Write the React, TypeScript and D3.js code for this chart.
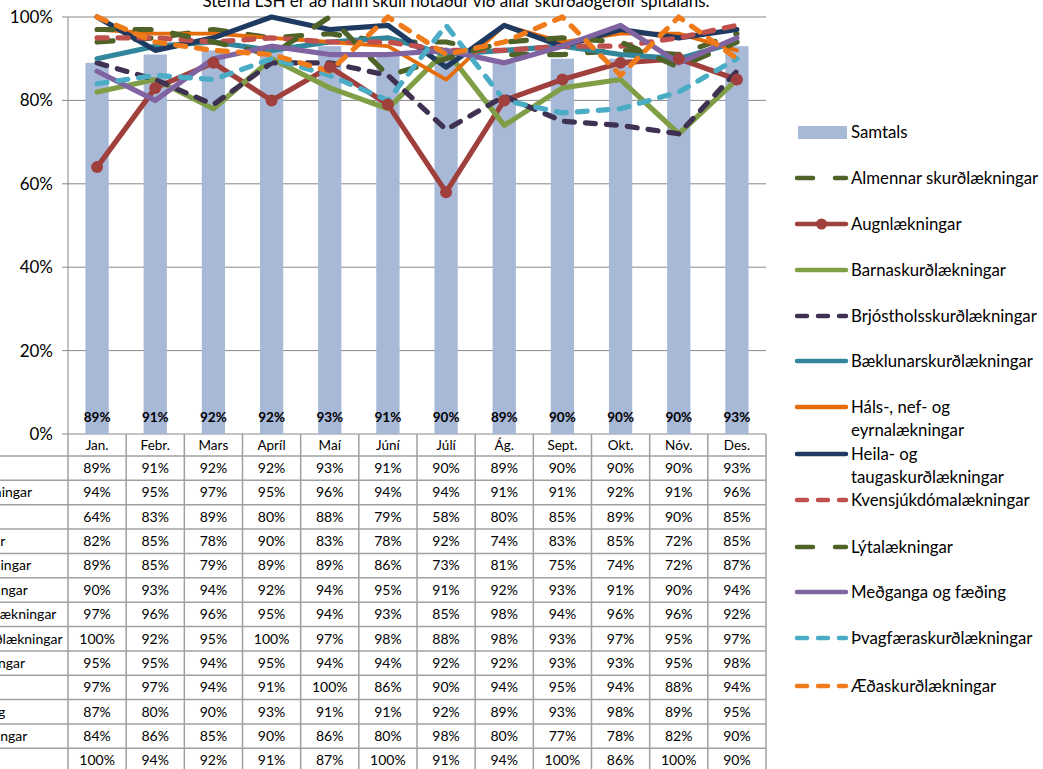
import React from "react";
import * as d3 from "d3";

const months = ["Jan.", "Febr.", "Mars", "Apríl", "Maí", "Júní", "Júlí", "Ág.", "Sept.", "Okt.", "Nóv.", "Des."];
const yTicks = [0, 20, 40, 60, 80, 100];
const title = "Stefna LSH er að hann skuli notaður við allar skurðaðgerðir spítalans.";

const samtals = [89, 91, 92, 92, 93, 91, 90, 89, 90, 90, 90, 93];
const almennar = [94, 95, 97, 95, 96, 94, 94, 91, 91, 92, 91, 96];
const augn = [64, 83, 89, 80, 88, 79, 58, 80, 85, 89, 90, 85];
const barna = [82, 85, 78, 90, 83, 78, 92, 74, 83, 85, 72, 85];
const brjost = [89, 85, 79, 89, 89, 86, 73, 81, 75, 74, 72, 87];
const baeklunar = [90, 93, 94, 92, 94, 95, 91, 92, 93, 91, 90, 94];
const hals = [97, 96, 96, 95, 94, 93, 85, 98, 94, 96, 96, 92];
const heila = [100, 92, 95, 100, 97, 98, 88, 98, 93, 97, 95, 97];
const kvensjuk = [95, 95, 94, 95, 94, 94, 92, 92, 93, 93, 95, 98];
const lyta = [97, 97, 94, 91, 100, 86, 90, 94, 95, 94, 88, 94];
const medganga = [87, 80, 90, 93, 91, 91, 92, 89, 93, 98, 89, 95];
const thvagf = [84, 86, 85, 90, 86, 80, 98, 80, 77, 78, 82, 90];
const aeda = [100, 94, 92, 91, 87, 100, 91, 94, 100, 86, 100, 90];

const LONG = "16 22";
const DASH = "10 11";

const series = [
  { name: "Almennar skurðlækningar", lines: ["Almennar skurðlækningar"], values: almennar, color: "#4f6228", dash: LONG, w: 5.2 },
  { name: "Augnlækningar", lines: ["Augnlækningar"], values: augn, color: "#a0403d", dash: null, w: 5.2, marker: true },
  { name: "Barnaskurðlækningar", lines: ["Barnaskurðlækningar"], values: barna, color: "#7f9e45", dash: null, w: 5.2 },
  { name: "Brjóstholsskurðlækningar", lines: ["Brjóstholsskurðlækningar"], values: brjost, color: "#3f3151", dash: DASH, w: 5.2 },
  { name: "Bæklunarskurðlækningar", lines: ["Bæklunarskurðlækningar"], values: baeklunar, color: "#31869b", dash: null, w: 5.2 },
  { name: "Háls-, nef- og eyrnalækningar", lines: ["Háls-, nef- og", "eyrnalækningar"], values: hals, color: "#e46c0a", dash: null, w: 3.8 },
  { name: "Heila- og taugaskurðlækningar", lines: ["Heila- og", "taugaskurðlækningar"], values: heila, color: "#1f3a60", dash: null, w: 5.2 },
  { name: "Kvensjúkdómalækningar", lines: ["Kvensjúkdómalækningar"], values: kvensjuk, color: "#c0504d", dash: DASH, w: 5.2 },
  { name: "Lýtalækningar", lines: ["Lýtalækningar"], values: lyta, color: "#4f6228", dash: LONG, w: 5.2 },
  { name: "Meðganga og fæðing", lines: ["Meðganga og fæðing"], values: medganga, color: "#8064a2", dash: null, w: 5.2 },
  { name: "Þvagfæraskurðlækningar", lines: ["Þvagfæraskurðlækningar"], values: thvagf, color: "#4bacc6", dash: DASH, w: 5.2 },
  { name: "Æðaskurðlækningar", lines: ["Æðaskurðlækningar"], values: aeda, color: "#f07b1a", dash: DASH, w: 5.2 },
];

const legendY = [178, 224, 270, 316, 361, 407, 454, 500, 547, 592, 638, 686];

export default function App() {
  const W = 1043, H = 769;
  const left = 68, right = 766, top = 17, bottom = 434;
  const font = "Lato, 'Noto Sans', sans-serif";
  const x = d3.scaleBand<string>().domain(months).range([left, right]).paddingInner(0).paddingOuter(0);
  const y = d3.scaleLinear().domain([0, 100]).range([bottom, top]);
  const bw = x.bandwidth();
  const barW = bw * 0.4;
  const cx = (m: string) => (x(m) as number) + bw / 2;
  const line = d3.line<number>().x((_, i) => cx(months[i])).y((v) => y(v));

  const rowH = 24.36;
  const headerBottom = 456;
  const tableRows = [{ name: "Samtals", values: samtals }, ...series.map((s) => ({ name: s.name, values: s.values }))];
  const tableBottom = headerBottom + rowH * tableRows.length;
  const gridColor = "#888888";
  const tableColor = "#a0a0a0";
  const labelStart = -124;

  return (
    <svg width={W} height={H} style={{ position: "absolute", left: 0, top: 0, fontFamily: font }}>
      <rect x={0} y={0} width={W} height={H} fill="#fff" />
      <text x={456} y={7} textAnchor="middle" fontSize={17} fill="#000">{title}</text>
      {yTicks.map((t) => (
        <g key={t}>
          <line x1={left - 6} x2={right} y1={y(t)} y2={y(t)} stroke={gridColor} strokeWidth={1} />
          <text x={53} y={y(t) + 6} textAnchor="end" fontSize={17} fill="#000">{t}%</text>
        </g>
      ))}
      <line x1={left} x2={left} y1={top} y2={bottom} stroke={gridColor} strokeWidth={1} />
      {samtals.map((v, i) => (
        <rect key={i} x={cx(months[i]) - barW / 2} y={y(v)} width={barW} height={bottom - y(v)} fill="#a8b9d8" />
      ))}
      {series.map((s) => (
        <path key={s.name} d={line(s.values) || ""} fill="none" stroke={s.color} strokeWidth={s.w}
          strokeDasharray={s.dash || undefined} strokeLinecap="round" strokeLinejoin="round" />
      ))}
      {series.filter((s) => s.marker).map((s) =>
        s.values.map((v, i) => <circle key={s.name + i} cx={cx(months[i])} cy={y(v)} r={6} fill={s.color} />)
      )}
      {samtals.map((v, i) => (
        <text key={i} x={cx(months[i])} y={422} textAnchor="middle" fontSize={13.5} fontWeight="bold" fill="#000">{v}%</text>
      ))}
      {months.map((m) => (
        <text key={m} x={cx(m)} y={450} textAnchor="middle" fontSize={13.5} fill="#000">{m}</text>
      ))}
      {tableRows.map((r, ri) => (
        <g key={r.name}>
          <text x={labelStart} y={headerBottom + rowH * ri + 17} fontSize={14} fill="#000">{r.name}</text>
          {r.values.map((v, i) => (
            <text key={i} x={cx(months[i])} y={headerBottom + rowH * ri + 17} textAnchor="middle" fontSize={14} fill="#000">{v}%</text>
          ))}
        </g>
      ))}
      {d3.range(tableRows.length + 1).map((i) => (
        <line key={i} x1={0} x2={right} y1={headerBottom + rowH * i} y2={headerBottom + rowH * i} stroke={tableColor} strokeWidth={1.5} />
      ))}
      {d3.range(months.length + 1).map((i) => (
        <line key={i} x1={left + bw * i} x2={left + bw * i} y1={bottom} y2={tableBottom} stroke={tableColor} strokeWidth={1.5} />
      ))}
      <rect x={798} y={126} width={49} height={13} fill="#a8b9d8" />
      <text x={851} y={138} fontSize={16.8} fill="#000">Samtals</text>
      {series.map((s, i) => {
        const ly = legendY[i];
        return (
          <g key={s.name}>
            <line x1={797} x2={846} y1={ly} y2={ly} stroke={s.color} strokeWidth={4.5}
              strokeDasharray={s.dash || undefined} strokeLinecap="round" />
            {s.marker && <circle cx={821.5} cy={ly} r={5.5} fill={s.color} />}
            {s.lines.map((t, j) => (
              <text key={j} x={851} y={ly + 6 + j * 23} fontSize={16.8} fill="#000">{t}</text>
            ))}
          </g>
        );
      })}
    </svg>
  );
}
